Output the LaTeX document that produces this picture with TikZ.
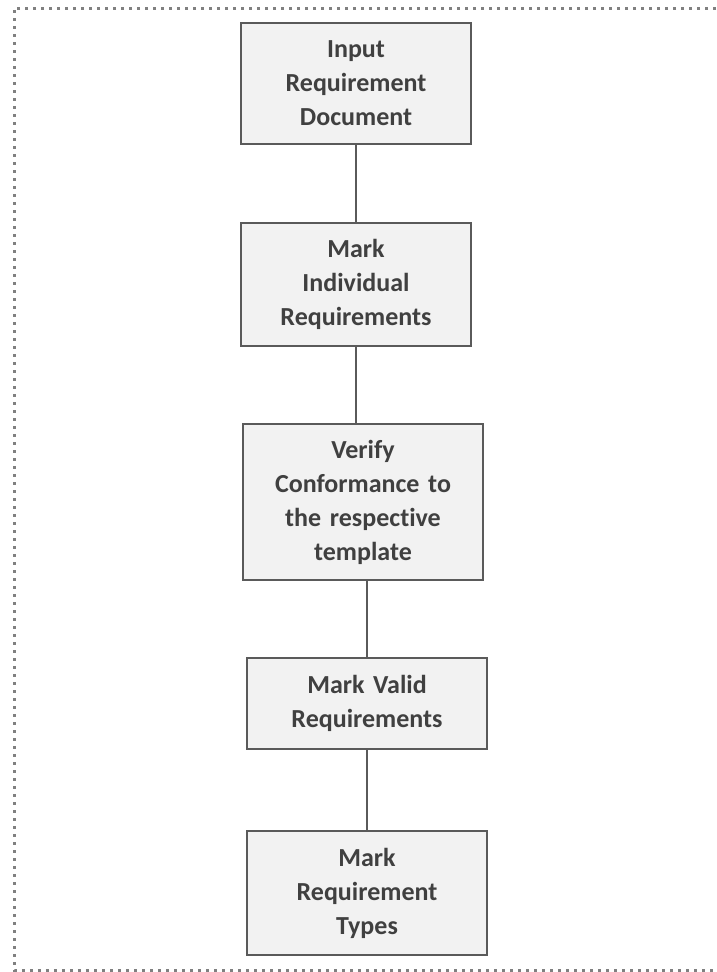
\documentclass[tikz,border=0pt]{standalone}
\usepackage{fontspec}
\setmainfont{Carlito}[Ligatures=NoCommon]
\usetikzlibrary{calc}
\definecolor{boxfill}{HTML}{F2F2F2}
\definecolor{boxline}{HTML}{5A5A5A}
\definecolor{txt}{HTML}{404040}
\definecolor{frameline}{HTML}{808080}
\begin{document}
\begin{tikzpicture}[x=1pt,y=-1pt,
  stepbox/.style={draw=boxline, line width=2pt, fill=boxfill, inner sep=0pt,
    text=txt, align=center, font=\fontsize{26}{34}\selectfont\bfseries},
  link/.style={draw=boxline, line width=2pt}]
\useasboundingbox (0,0) rectangle (716,972);
% dotted frame (open on the right)
\draw[frameline, line width=3pt, dash pattern=on 3pt off 5pt]
  (716,8) -- (14,8) -- (14,970) -- (716,970);
% process steps
\node[stepbox, minimum width=230, minimum height=121, text width=220] (b1) at (356,83.5)
  {Input\\Requirement\\Document};
\node[stepbox, minimum width=230, minimum height=123, text width=220] (b2) at (356,284.5)
  {Mark\\Individual\\Requirements};
\node[stepbox, minimum width=240, minimum height=156, text width=230] (b3) at (363,502)
  {Verify\\Conformance to\\the respective\\template};
\node[stepbox, minimum width=240, minimum height=91, text width=230] (b4) at (367,703.5)
  {Mark Valid\\Requirements};
\node[stepbox, minimum width=240, minimum height=124, text width=230] (b5) at (367,893)
  {Mark\\Requirement\\Types};
% connectors
\draw[link] (b1.south) -- (b2.north);
\draw[link] (b2.south) -- (b2.south |- b3.north);
\draw[link] (b4.north |- b3.south) -- (b4.north);
\draw[link] (b4.south) -- (b5.north);
\end{tikzpicture}
\end{document}
